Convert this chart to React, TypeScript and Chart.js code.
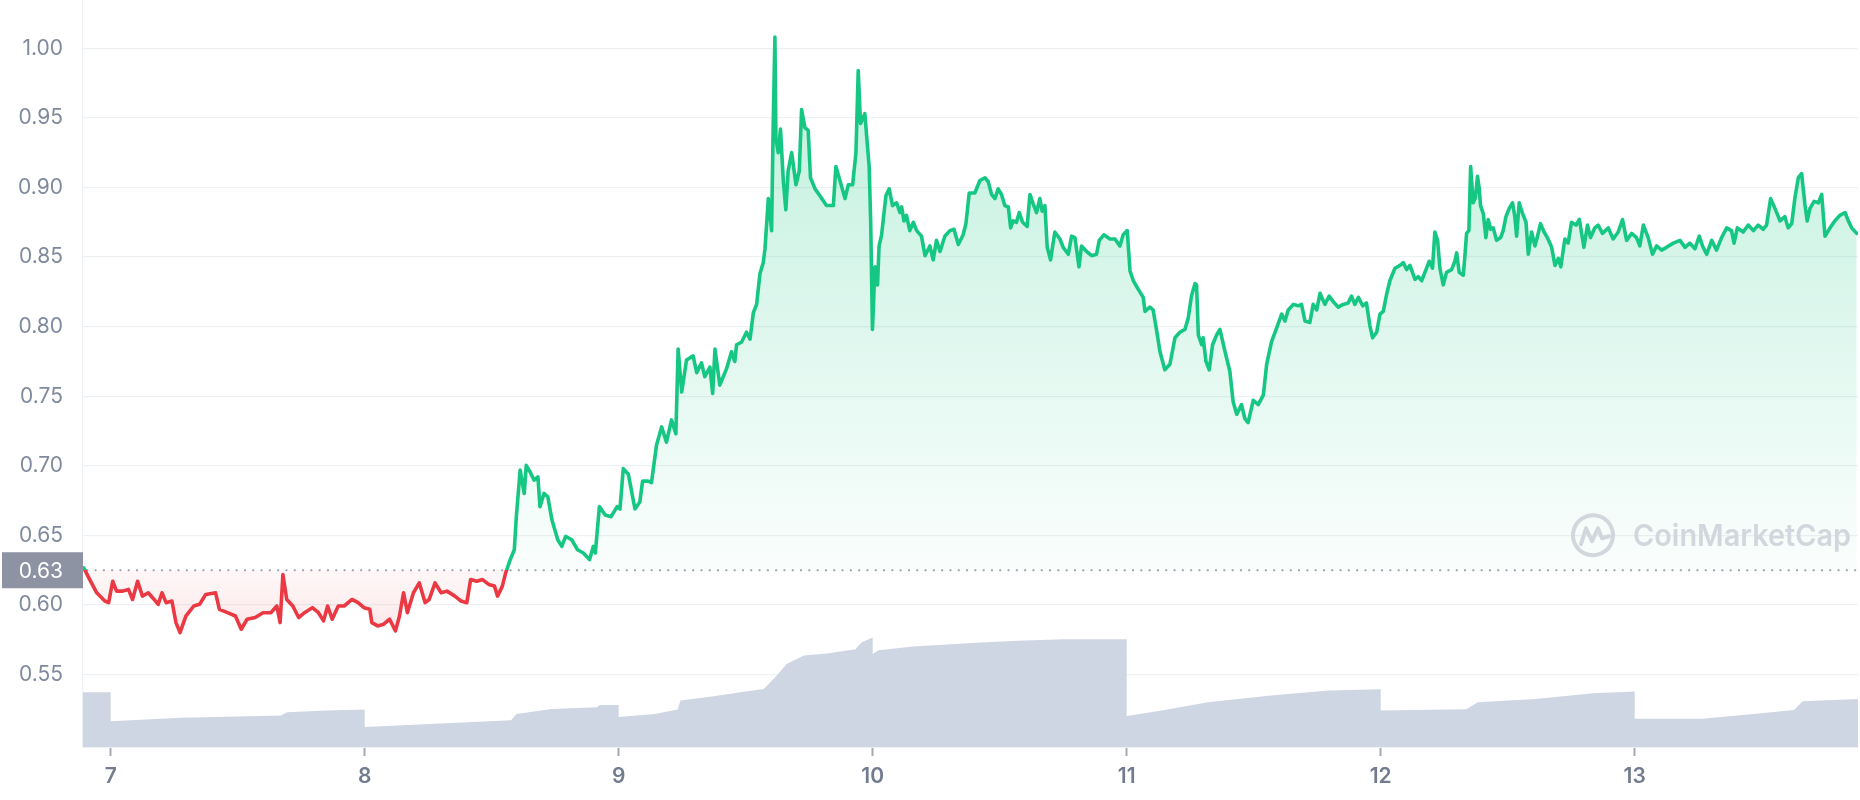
import React, { useEffect, useRef } from 'react';
import { Chart, registerables } from 'chart.js';

Chart.register(...registerables);

// Day of month (decimal) and price in USD
const priceSeries: [number, number][] = [
  [6.894, 0.6267], [6.914, 0.6195], [6.945, 0.6088], [6.977, 0.6029], [6.992, 0.6017], [7.008, 0.6171],
  [7.023, 0.61], [7.047, 0.61], [7.07, 0.6112], [7.086, 0.604], [7.106, 0.6171], [7.125, 0.6064],
  [7.148, 0.6088], [7.171, 0.604], [7.187, 0.6005], [7.202, 0.6088], [7.218, 0.6017], [7.241, 0.6029],
  [7.257, 0.5874], [7.273, 0.5802], [7.296, 0.5921], [7.327, 0.5993], [7.35, 0.6005], [7.374, 0.6076],
  [7.413, 0.6088], [7.428, 0.5969], [7.46, 0.5945], [7.491, 0.5921], [7.514, 0.5826], [7.537, 0.5898],
  [7.569, 0.591], [7.6, 0.5945], [7.631, 0.5945], [7.654, 0.5993], [7.667, 0.5874], [7.678, 0.6219],
  [7.693, 0.604], [7.717, 0.5993], [7.74, 0.591], [7.763, 0.5945], [7.794, 0.5981], [7.818, 0.5945],
  [7.838, 0.5886], [7.854, 0.5993], [7.872, 0.5898], [7.896, 0.5993], [7.919, 0.5993], [7.95, 0.604],
  [7.974, 0.6017], [7.997, 0.5981], [8.02, 0.5969], [8.028, 0.5874], [8.051, 0.585], [8.075, 0.5862],
  [8.098, 0.5898], [8.121, 0.5814], [8.137, 0.5921], [8.153, 0.6088], [8.168, 0.5945], [8.192, 0.6088],
  [8.215, 0.6159], [8.238, 0.6017], [8.254, 0.604], [8.277, 0.6159], [8.301, 0.6088], [8.324, 0.61],
  [8.355, 0.6064], [8.379, 0.6029], [8.402, 0.6017], [8.417, 0.6183], [8.441, 0.6171], [8.464, 0.6183],
  [8.488, 0.6148], [8.511, 0.6136], [8.523, 0.6064], [8.542, 0.6136], [8.555, 0.6231], [8.573, 0.6326],
  [8.589, 0.6397], [8.597, 0.6635], [8.612, 0.6969], [8.628, 0.6802], [8.636, 0.7004], [8.651, 0.6957],
  [8.667, 0.6897], [8.682, 0.6921], [8.69, 0.6707], [8.706, 0.6802], [8.721, 0.6778], [8.737, 0.6612],
  [8.76, 0.6469], [8.776, 0.6421], [8.791, 0.6493], [8.815, 0.6469], [8.838, 0.6397], [8.861, 0.6374],
  [8.885, 0.6326], [8.9, 0.6421], [8.908, 0.6374], [8.924, 0.6707], [8.947, 0.6647], [8.97, 0.6635],
  [8.994, 0.6707],
  [9.005, 0.669], [9.018, 0.698], [9.038, 0.694], [9.064, 0.669], [9.083, 0.674], [9.094, 0.689],
  [9.116, 0.689], [9.129, 0.688], [9.149, 0.715], [9.169, 0.728], [9.188, 0.717], [9.208, 0.733],
  [9.225, 0.723], [9.234, 0.784], [9.248, 0.753], [9.267, 0.776], [9.293, 0.779], [9.307, 0.767],
  [9.326, 0.774], [9.339, 0.764], [9.359, 0.771], [9.37, 0.752], [9.379, 0.784], [9.398, 0.758],
  [9.425, 0.77], [9.444, 0.782], [9.457, 0.775], [9.464, 0.787], [9.484, 0.789], [9.503, 0.796],
  [9.517, 0.791], [9.53, 0.81], [9.543, 0.816], [9.556, 0.838], [9.569, 0.846], [9.576, 0.856],
  [9.589, 0.892], [9.602, 0.869], [9.608, 0.943], [9.615, 1.008], [9.619, 0.935], [9.628, 0.925],
  [9.637, 0.942], [9.648, 0.905], [9.658, 0.884], [9.667, 0.912], [9.681, 0.925], [9.698, 0.902],
  [9.711, 0.912], [9.72, 0.956], [9.733, 0.943], [9.746, 0.941], [9.755, 0.907], [9.773, 0.899],
  [9.792, 0.894], [9.818, 0.887], [9.845, 0.887], [9.855, 0.915], [9.871, 0.905], [9.891, 0.892],
  [9.904, 0.902], [9.921, 0.902], [9.934, 0.925], [9.943, 0.984], [9.952, 0.946], [9.969, 0.953],
  [9.986, 0.915], [9.992, 0.876], [9.999, 0.798], [10.009, 0.843], [10.019, 0.83], [10.025, 0.858],
  [10.035, 0.866], [10.052, 0.894], [10.065, 0.899], [10.078, 0.887], [10.094, 0.889], [10.107, 0.882],
  [10.114, 0.886], [10.123, 0.876], [10.133, 0.88], [10.146, 0.869], [10.16, 0.875], [10.173, 0.869],
  [10.192, 0.865], [10.206, 0.851], [10.225, 0.858], [10.238, 0.848], [10.251, 0.862], [10.265, 0.854],
  [10.284, 0.865], [10.304, 0.869], [10.32, 0.87], [10.337, 0.859], [10.356, 0.866], [10.367, 0.874],
  [10.38, 0.896], [10.402, 0.896], [10.422, 0.905], [10.442, 0.907], [10.455, 0.904], [10.468, 0.895],
  [10.481, 0.892], [10.494, 0.899], [10.507, 0.895], [10.52, 0.887], [10.534, 0.886], [10.543, 0.871],
  [10.553, 0.876], [10.566, 0.875], [10.577, 0.882], [10.59, 0.875], [10.608, 0.872], [10.619, 0.895],
  [10.632, 0.888], [10.645, 0.882], [10.658, 0.892], [10.667, 0.883], [10.678, 0.887], [10.687, 0.857],
  [10.7, 0.848], [10.717, 0.868], [10.737, 0.863], [10.75, 0.857], [10.77, 0.852], [10.783, 0.865],
  [10.796, 0.864], [10.812, 0.843], [10.822, 0.858], [10.842, 0.854], [10.862, 0.851], [10.881, 0.852],
  [10.892, 0.862], [10.91, 0.866], [10.934, 0.863], [10.954, 0.863], [10.973, 0.858], [10.986, 0.866],
  [11.002, 0.869], [11.013, 0.84], [11.026, 0.833], [11.045, 0.827], [11.065, 0.821], [11.072, 0.811],
  [11.091, 0.814], [11.104, 0.812], [11.118, 0.797], [11.131, 0.782], [11.15, 0.769], [11.17, 0.773],
  [11.19, 0.792], [11.209, 0.796],
  [11.229, 0.798], [11.242, 0.806], [11.255, 0.822], [11.269, 0.831], [11.275, 0.83], [11.282, 0.794],
  [11.295, 0.787], [11.301, 0.792], [11.312, 0.775], [11.325, 0.769], [11.338, 0.787], [11.354, 0.794],
  [11.367, 0.798], [11.387, 0.782], [11.406, 0.768], [11.419, 0.746], [11.433, 0.737], [11.452, 0.744],
  [11.465, 0.734], [11.478, 0.731], [11.498, 0.747], [11.518, 0.744], [11.538, 0.751], [11.551, 0.773],
  [11.57, 0.789], [11.59, 0.799], [11.61, 0.809], [11.623, 0.804], [11.636, 0.812], [11.656, 0.816],
  [11.675, 0.815], [11.688, 0.816], [11.702, 0.804], [11.721, 0.803], [11.734, 0.816], [11.748, 0.812],
  [11.761, 0.824], [11.78, 0.816], [11.797, 0.822], [11.813, 0.818], [11.833, 0.814], [11.852, 0.816],
  [11.872, 0.817], [11.885, 0.822], [11.898, 0.816], [11.912, 0.821], [11.929, 0.815], [11.944, 0.817],
  [11.957, 0.801], [11.968, 0.792], [11.984, 0.796], [11.997, 0.809], [12.01, 0.811], [12.023, 0.823],
  [12.036, 0.833], [12.056, 0.842], [12.076, 0.844], [12.089, 0.846], [12.102, 0.841], [12.115, 0.844],
  [12.135, 0.834], [12.148, 0.836], [12.161, 0.833], [12.174, 0.839], [12.191, 0.847], [12.204, 0.842],
  [12.213, 0.868], [12.224, 0.862], [12.233, 0.842], [12.246, 0.83], [12.259, 0.839], [12.279, 0.841],
  [12.292, 0.847], [12.299, 0.853], [12.309, 0.839], [12.325, 0.837],
  [12.331, 0.85], [12.338, 0.867], [12.347, 0.869], [12.354, 0.915], [12.364, 0.889], [12.373, 0.893],
  [12.381, 0.908], [12.388, 0.899], [12.393, 0.887], [12.404, 0.881], [12.414, 0.864], [12.423, 0.877],
  [12.433, 0.87], [12.443, 0.871], [12.456, 0.862], [12.472, 0.864], [12.482, 0.869], [12.493, 0.879],
  [12.506, 0.885], [12.519, 0.889], [12.528, 0.879], [12.535, 0.865], [12.545, 0.889], [12.559, 0.881],
  [12.572, 0.875], [12.581, 0.852], [12.594, 0.868], [12.607, 0.858], [12.616, 0.864], [12.629, 0.874],
  [12.643, 0.868], [12.656, 0.864], [12.673, 0.857], [12.686, 0.844], [12.699, 0.849], [12.709, 0.843],
  [12.725, 0.863], [12.738, 0.86], [12.751, 0.875], [12.769, 0.873], [12.782, 0.877], [12.8, 0.857],
  [12.814, 0.873], [12.826, 0.864], [12.843, 0.871], [12.856, 0.873], [12.873, 0.867], [12.896, 0.871],
  [12.915, 0.863], [12.935, 0.868], [12.952, 0.877], [12.968, 0.862], [12.988, 0.867], [13.007, 0.864],
  [13.02, 0.858], [13.034, 0.873], [13.053, 0.864], [13.07, 0.852], [13.086, 0.858], [13.106, 0.855],
  [13.125, 0.857], [13.152, 0.86], [13.178, 0.862], [13.198, 0.857], [13.217, 0.86], [13.237, 0.856],
  [13.254, 0.865], [13.267, 0.858], [13.283, 0.852], [13.303, 0.862], [13.322, 0.855], [13.342, 0.864],
  [13.362, 0.871], [13.381, 0.869], [13.391, 0.86], [13.404, 0.871], [13.427, 0.868], [13.447, 0.873],
  [13.467, 0.869], [13.486, 0.873], [13.506, 0.87], [13.519, 0.873], [13.535, 0.892], [13.552, 0.885],
  [13.572, 0.876], [13.591, 0.879], [13.604, 0.871], [13.618, 0.874], [13.631, 0.893], [13.644, 0.907],
  [13.657, 0.91], [13.67, 0.888], [13.679, 0.876], [13.69, 0.885], [13.706, 0.89], [13.723, 0.889],
  [13.736, 0.895], [13.749, 0.865], [13.769, 0.871], [13.788, 0.876], [13.808, 0.88], [13.828, 0.882],
  [13.841, 0.876], [13.854, 0.871], [13.874, 0.867],
];

// Day of month and 24h volume (million USD)
const volumeSeries: [number, number][] = [
  [6.891, 22.0], [7.0, 22.0], [7.0, 10.3], [7.276, 11.7], [7.671, 12.7], [7.694, 14.0], [7.852, 14.7],
  [8.0, 15.1], [8.0, 8.0], [8.576, 10.7], [8.598, 13.3], [8.734, 15.3], [8.915, 16.0], [8.926, 16.9],
  [9.0, 16.9], [9.0, 12.0], [9.141, 13.3], [9.232, 15.1], [9.243, 18.7], [9.367, 20.3], [9.48, 22.0],
  [9.571, 23.3], [9.616, 28.0], [9.661, 33.3], [9.729, 36.7], [9.819, 37.6], [9.932, 39.3], [9.955, 42.0],
  [10.0, 44.0], [10.0, 37.3], [10.023, 38.9], [10.158, 40.4], [10.425, 42.0], [10.572, 42.7],
  [10.753, 43.3], [11.0, 43.3], [11.0, 12.4], [11.138, 14.7], [11.319, 18.0], [11.568, 20.7],
  [11.794, 22.7], [12.0, 23.2], [12.0, 14.7], [12.337, 15.2], [12.382, 18.0], [12.609, 19.3],
  [12.835, 21.6], [13.0, 22.3], [13.0, 11.3], [13.265, 11.3], [13.468, 13.3], [13.627, 14.9],
  [13.661, 18.4], [13.879, 19.3],
];

const xTickValues = [7, 8, 9, 10, 11, 12, 13];
const yTickValues = [0.55, 0.6, 0.65, 0.7, 0.75, 0.8, 0.85, 0.9, 0.95, 1.0];
const BASE_PRICE = 0.625;
const BASE_LABEL = '0.63';
const X_MIN = 6.891;
const X_MAX = 13.879;
const Y_MIN = 0.498;
const Y_MAX = 1.0347;
const VOL_MAX = 300;

const GREEN = '#16c784';
const RED = '#ea3943';

function baseFraction(chart: any): number {
  const area = chart.chartArea;
  const y = chart.scales.y.getPixelForValue(BASE_PRICE);
  return Math.min(1, Math.max(0, (y - area.top) / (area.bottom - area.top)));
}

function lineColor(context: any) {
  const chart = context.chart;
  const area = chart.chartArea;
  if (!area || !chart.scales.y) return GREEN;
  const f = baseFraction(chart);
  const g = chart.ctx.createLinearGradient(0, area.top, 0, area.bottom);
  g.addColorStop(0, GREEN);
  g.addColorStop(f, GREEN);
  g.addColorStop(Math.min(1, f + 0.0001), RED);
  g.addColorStop(1, RED);
  return g;
}

function fillColor(context: any) {
  const chart = context.chart;
  const area = chart.chartArea;
  if (!area || !chart.scales.y) return 'rgba(22,199,132,0.15)';
  const f = baseFraction(chart);
  const g = chart.ctx.createLinearGradient(0, area.top, 0, area.bottom);
  g.addColorStop(0, 'rgba(22,199,132,0.30)');
  g.addColorStop(f, 'rgba(22,199,132,0.02)');
  g.addColorStop(Math.min(1, f + 0.0001), 'rgba(234,57,67,0.04)');
  g.addColorStop(1, 'rgba(234,57,67,0.26)');
  return g;
}

const overlayPlugin = {
  id: 'cmcOverlay',
  beforeDatasetsDraw(chart: any) {
    const { ctx, chartArea, scales } = chart;
    const y = scales.y.getPixelForValue(BASE_PRICE);
    ctx.save();
    ctx.strokeStyle = '#9ba1ad';
    ctx.lineWidth = 1.8;
    ctx.lineCap = 'round';
    ctx.setLineDash([0.5, 7.8]);
    ctx.beginPath();
    ctx.moveTo(chartArea.left + 4, y);
    ctx.lineTo(chartArea.right, y);
    ctx.stroke();
    ctx.restore();
  },
  afterDatasetsDraw(chart: any) {
    const { ctx, chartArea, scales } = chart;
    const by = scales.y.getPixelForValue(BASE_PRICE);
    const cx = chartArea.right - 265;
    const cy = by - 35;
    ctx.save();
    ctx.strokeStyle = '#d2d6dd';
    ctx.fillStyle = '#d2d6dd';
    ctx.lineWidth = 4;
    ctx.lineJoin = 'round';
    ctx.lineCap = 'round';
    ctx.beginPath();
    ctx.arc(cx, cy, 20, -0.15 * Math.PI, 1.95 * Math.PI * 0.93);
    ctx.stroke();
    ctx.beginPath();
    ctx.moveTo(cx - 12, cy + 9);
    ctx.lineTo(cx - 7, cy - 7);
    ctx.lineTo(cx - 1, cy + 6);
    ctx.lineTo(cx + 5, cy - 7);
    ctx.lineTo(cx + 9, cy + 3);
    ctx.lineTo(cx + 16, cy + 1);
    ctx.stroke();
    ctx.font = '600 30px Inter';
    ctx.textAlign = 'left';
    ctx.textBaseline = 'alphabetic';
    ctx.fillText('CoinMarketCap', cx + 40, by - 24, 218);
    ctx.restore();
  },
  afterDraw(chart: any) {
    const { ctx, chartArea, scales } = chart;
    const y = scales.y.getPixelForValue(BASE_PRICE);
    ctx.save();
    ctx.fillStyle = '#8d93a2';
    ctx.fillRect(2, y - 18, chartArea.left - 2, 36);
    ctx.fillStyle = '#ffffff';
    ctx.font = '21px Inter';
    ctx.textAlign = 'right';
    ctx.textBaseline = 'middle';
    ctx.fillText(BASE_LABEL, chartArea.left - 20, y + 1);
    ctx.restore();
  },
};

export default function App() {
  const canvasRef = useRef<HTMLCanvasElement | null>(null);

  useEffect(() => {
    if (!canvasRef.current) return;
    const chart = new Chart(canvasRef.current, {
      type: 'line',
      data: {
        datasets: [
          {
            label: 'Price',
            data: priceSeries.map(([x, y]) => ({ x, y })),
            yAxisID: 'y',
            borderColor: lineColor as any,
            backgroundColor: fillColor as any,
            fill: { value: BASE_PRICE } as any,
            borderWidth: 3.6,
            borderJoinStyle: 'round',
            borderCapStyle: 'round',
            pointRadius: 0,
            tension: 0,
            order: 0,
          },
          {
            label: 'Volume',
            data: volumeSeries.map(([x, y]) => ({ x, y })),
            yAxisID: 'yv',
            borderWidth: 0,
            pointRadius: 0,
            backgroundColor: '#cfd6e3',
            fill: 'origin',
            order: 1,
          },
        ],
      },
      options: {
        animation: false,
        responsive: true,
        maintainAspectRatio: false,
        layout: { padding: { top: 0, right: 2, left: 0, bottom: 0 } },
        plugins: { legend: { display: false }, tooltip: { enabled: false } },
        scales: {
          x: {
            type: 'linear',
            min: X_MIN,
            max: X_MAX,
            afterBuildTicks: (s: any) => {
              s.ticks = xTickValues.map((v) => ({ value: v }));
            },
            afterFit: (s: any) => {
              s.height = 53;
              s.paddingLeft = 0;
              s.paddingRight = 0;
            },
            grid: {
              drawOnChartArea: false,
              drawTicks: true,
              tickLength: 9,
              tickColor: '#a3a9b5',
              tickWidth: 2,
            },
            border: { display: true, color: '#eef1f4', width: 1 },
            ticks: {
              padding: 8,
              color: '#737c8e',
              font: { family: 'Inter', size: 21, weight: 600 },
              maxRotation: 0,
              autoSkip: false,
              callback: (v: any) => String(v),
            },
          } as any,
          y: {
            type: 'linear',
            position: 'left',
            min: Y_MIN,
            max: Y_MAX,
            afterBuildTicks: (s: any) => {
              s.ticks = yTickValues.map((v) => ({ value: v }));
            },
            afterFit: (s: any) => {
              s.width = 83;
              s.paddingTop = 0;
              s.paddingBottom = 0;
            },
            grid: { color: '#eef1f4', lineWidth: 1.2, drawTicks: false },
            border: { display: true, color: '#eef1f4', width: 1.2 },
            ticks: {
              padding: 20,
              color: '#808a9d',
              font: { family: 'Inter', size: 21 },
              callback: (v: any) => Number(v).toFixed(2),
            },
          } as any,
          yv: {
            type: 'linear',
            display: false,
            min: 0,
            max: VOL_MAX,
          },
        },
      },
      plugins: [overlayPlugin],
    });
    return () => chart.destroy();
  }, []);

  return (
    <div style={{ position: 'absolute', left: 0, top: 0, width: 1860, height: 800, background: '#ffffff' }}>
      <canvas ref={canvasRef} />
    </div>
  );
}
